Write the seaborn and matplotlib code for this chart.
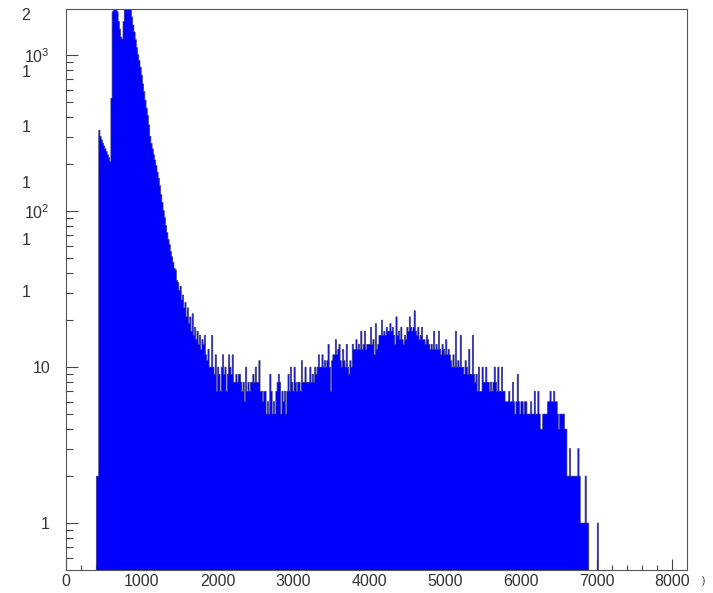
#!/usr/bin/env python3

import numpy as np
import pandas as pd
import matplotlib
matplotlib.use("Agg")
import matplotlib.pyplot as plt
from matplotlib.ticker import NullFormatter
import seaborn as sns

# histogram binning: 16-channel bins, first filled bin at channel 400
BIN_START = 400
BIN_WIDTH = 16

# entries per bin (400 channels per list)
counts_0400 = [2, 2, 330, 302, 287, 273, 262, 251, 241, 230, 221, 208, 530,
               1900, 2600, 2900, 2400, 1900, 1650, 1470, 1310, 1270, 1650,
               2300, 2700]
counts_0800 = [2950, 2800, 2350, 1980, 1760, 1560, 1410, 1260, 1120, 1010,
               925, 840, 745, 655, 585, 515, 458, 410, 358, 302, 272, 251,
               230, 213, 196]
counts_1200 = [178, 163, 146, 128, 114, 101, 91, 81, 73, 66, 61, 55, 51, 47,
               43, 42, 36, 35, 31, 33, 27, 29, 24, 26, 21]
counts_1600 = [24, 19, 21, 17, 22, 16, 18, 15, 17, 14, 16, 13, 15, 14, 16, 12,
               11, 13, 10, 10, 16, 10, 9, 12, 7]
counts_2000 = [10, 9, 7, 10, 12, 9, 10, 7, 9, 12, 10, 9, 12, 8, 8, 9, 8, 9, 9,
               8, 7, 8, 6, 10, 7]
counts_2400 = [8, 7, 8, 8, 9, 8, 10, 8, 8, 11, 7, 7, 6, 7, 7, 5, 6, 5, 9, 7, 5,
               6, 5, 7, 8]
counts_2800 = [9, 8, 5, 7, 6, 7, 5, 7, 9, 7, 10, 8, 7, 10, 8, 7, 8, 8, 7, 11,
               8, 8, 10, 8, 8]
counts_3200 = [8, 10, 8, 9, 8, 10, 9, 10, 12, 10, 10, 12, 10, 11, 10, 11, 14,
               10, 7, 11, 12, 12, 15, 12, 13]
counts_3600 = [14, 11, 10, 13, 11, 10, 14, 10, 9, 11, 10, 14, 13, 13, 15, 13,
               14, 13, 17, 13, 14, 17, 13, 14, 14]
counts_4000 = [14, 18, 14, 15, 12, 19, 13, 14, 16, 16, 20, 16, 17, 16, 18, 17,
               17, 19, 17, 18, 16, 14, 21, 16, 17]
counts_4400 = [15, 18, 15, 14, 16, 15, 18, 17, 21, 18, 17, 18, 23, 17, 16, 18,
               15, 16, 18, 15, 15, 14, 16, 15, 14]
counts_4800 = [13, 14, 13, 17, 13, 14, 13, 17, 13, 12, 14, 13, 12, 15, 12, 13,
               12, 11, 10, 12, 10, 17, 10, 11, 10]
counts_5200 = [16, 10, 10, 9, 11, 10, 9, 13, 9, 9, 16, 9, 8, 9, 7, 10, 7, 7,
               10, 8, 8, 10, 8, 8, 7]
counts_5600 = [8, 7, 8, 10, 8, 7, 10, 7, 7, 10, 7, 7, 6, 6, 6, 7, 6, 6, 8, 6,
               5, 6, 9, 6, 5]
counts_6000 = [6, 6, 5, 6, 6, 5, 5, 5, 6, 5, 5, 7, 5, 5, 7, 5, 4, 4, 5, 5, 5,
               5, 6, 6, 7]
counts_6400 = [6, 6, 7, 6, 6, 5, 4, 5, 5, 5, 5, 4, 4, 2, 2, 3, 2, 2, 2, 2, 2,
               2, 3, 2, 1]
counts_6800 = [1, 1, 1, 2, 1, 1, 0, 0, 0, 0, 0, 0, 0, 1]

# y tick labels
major_vals = [1, 10, 100, 1000]
major_labels = ["1", "10", "$10^{2}$", "$10^{3}$"]
# stray clipped labels left of the axis
stray_vals = [1790, 770, 342, 150, 64.5, 30]
stray_labels = ["2", "1", "1", "1", "1", "1"]


def plot_spectrum():
    counts = (counts_0400 + counts_0800 + counts_1200 + counts_1600
              + counts_2000 + counts_2400 + counts_2800 + counts_3200
              + counts_3600 + counts_4000 + counts_4400 + counts_4800
              + counts_5200 + counts_5600 + counts_6000 + counts_6400
              + counts_6800)
    edges = BIN_START + BIN_WIDTH * np.arange(len(counts) + 1)
    df = pd.DataFrame({"channel": edges[:-1] + BIN_WIDTH / 2,
                       "entries": counts})

    sns.set_style("ticks")
    plt.rcParams["font.family"] = ["Liberation Sans", "DejaVu Sans"]
    plt.rcParams["mathtext.default"] = "regular"

    fig = plt.figure(figsize=(7.13, 5.93), dpi=100)
    ax = fig.add_axes([66 / 713, 1 - 570 / 593, 621 / 713, 561 / 593])

    sns.histplot(data=df, x="channel", weights="entries",
                 bins=edges.tolist(), element="step", fill=True,
                 color="#0000ff", alpha=1, edgecolor="#3c3c78",
                 linewidth=0.5, ax=ax)
    ax.set_yscale("log")
    ax.set_xlim(0, 8192)
    ax.set_ylim(0.5, 1980)
    ax.set(xlabel="", ylabel="")

    # ticks, ROOT style (inside)
    ax.set_xticks(np.arange(0, 8001, 1000))
    ax.set_xticks([v for v in range(200, 8001, 200) if v % 1000], minor=True)
    ax.set_yticks(major_vals, labels=major_labels)
    minor_y = [m * 10.0 ** e for e in range(-1, 4) for m in range(2, 10)]
    ax.set_yticks([v for v in minor_y if 0.5 < v < 1980], minor=True)
    ax.yaxis.set_minor_formatter(NullFormatter())

    ax.tick_params(axis="both", which="both", direction="in",
                   color="#444444", labelcolor="#333333", labelsize=11.5,
                   top=False, right=False, width=0.8)
    ax.tick_params(axis="x", which="major", length=7.7, pad=3)
    ax.tick_params(axis="x", which="minor", length=3.6)
    ax.tick_params(axis="y", which="major", length=8.8, pad=11.5)
    ax.tick_params(axis="y", which="minor", length=4.8)

    for s in ax.spines.values():
        s.set_color("#555555")
        s.set_linewidth(0.8)

    for v, t in zip(stray_vals, stray_labels):
        ax.text(-0.0644, v, t, transform=ax.get_yaxis_transform(),
                ha="center", va="center", fontsize=11.5, color="#333333",
                clip_on=False)
    fig.text(704 / 713, 1 - 581 / 593, ")", fontsize=7, color="#333333",
             ha="center", va="center")

    fig.savefig("out.png", dpi=100)


def main():
    plot_spectrum()


if __name__ == "__main__":
    main()
